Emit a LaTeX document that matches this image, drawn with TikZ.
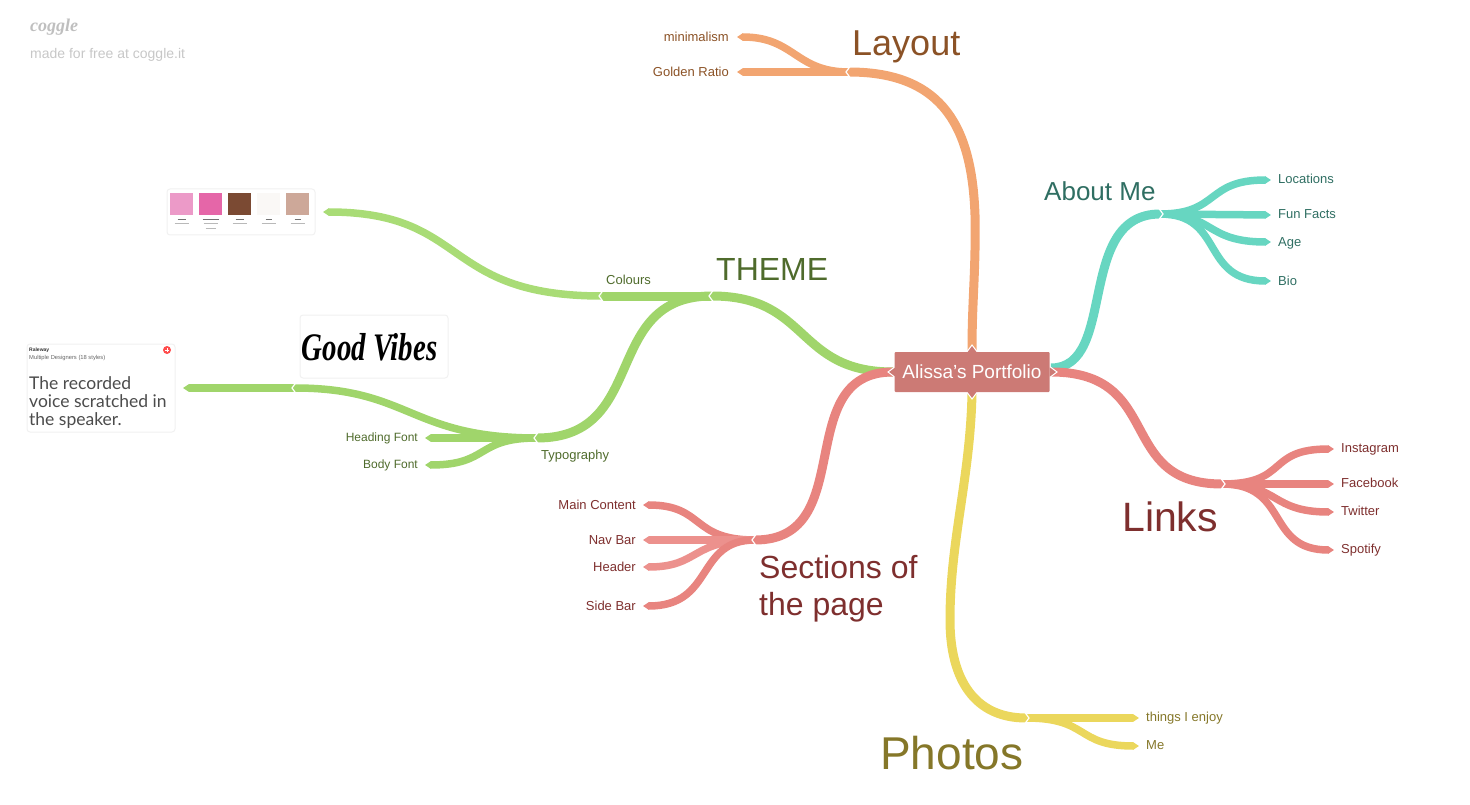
\documentclass[tikz,border=0pt]{standalone}
\usepackage{fontspec}
\setmainfont{Liberation Sans}
\newfontfamily\ravfont{Lato}
\newfontfamily\scriptyfont{Liberation Serif}
\usetikzlibrary{arrows.meta}
\definecolor{orangeB}{HTML}{F2A571}\definecolor{orangeT}{HTML}{8B5226}
\definecolor{tealB}{HTML}{67D6C1}\definecolor{tealT}{HTML}{2F6E62}
\definecolor{greenB}{HTML}{A0D56B}\definecolor{greenL}{HTML}{A9DC76}\definecolor{greenT}{HTML}{4F6B2C}
\definecolor{redB}{HTML}{E8847F}\definecolor{redL}{HTML}{EC918D}\definecolor{redT}{HTML}{7E2F2E}
\definecolor{yellowB}{HTML}{EBD75C}\definecolor{yellowT}{HTML}{857729}
\definecolor{boxC}{HTML}{CC7A75}\definecolor{cardL}{HTML}{F1F1F1}
\definecolor{swA}{HTML}{EC9AC8}\definecolor{swB}{HTML}{E566A8}\definecolor{swC}{HTML}{7B4A33}\definecolor{swD}{HTML}{FAF8F6}\definecolor{swE}{HTML}{CDA899}
\tikzset{
  x=1pt,y=-1pt,
  branch/.style={line width=9pt,line cap=butt},
  leaf/.style={line width=7.5pt,line cap=butt,-{Triangle[length=6pt,width=7.5pt]}},
  bare/.style={line width=7.5pt,line cap=butt},
  sz/.style={font=\fontsize{#1}{#1}\selectfont,inner sep=0pt},
  lab/.style={sz=13,text=#1,anchor=base west},
  labr/.style={sz=13,text=#1,anchor=base east},
  labs/.style={sz=12,text=#1,anchor=base east},
  card/.style={draw=cardL,line width=1pt,fill=white,rounded corners=3pt,inner sep=0pt},
  chevl/.pic={\draw[white,line width=1.2pt] (4,-5.5)--(0,0)--(4,5.5);},
  chevr/.pic={\draw[white,line width=1.2pt] (-4,-5.5)--(0,0)--(-4,5.5);},
  tabm/.style={fill=boxC,draw=white,line width=1pt,line join=miter},
  swatch/.style={inner sep=0pt,minimum width=23.5pt,minimum height=22.5pt},
  tiny/.style={draw=#1,line width=1.1pt,opacity=.55}
}
\begin{document}
\begin{tikzpicture}
\useasboundingbox (0,0) rectangle (1470,805);
% junctions
\coordinate (cT) at (972,350);\coordinate (cB) at (972,394);
\coordinate (cL) at (893,372);\coordinate (cR) at (1051,372);\coordinate (cRa) at (1051,368);
\coordinate (jLay) at (849,72);\coordinate (jAb) at (1160,214);\coordinate (jLin) at (1222,484);
\coordinate (jSec) at (755,540);\coordinate (jThe) at (712,296);\coordinate (jCol) at (602,296);
\coordinate (jTyp) at (537,438);\coordinate (jImg) at (295,388);\coordinate (jPho) at (1026,718);
% free ends
\coordinate (eMin) at (737,37);\coordinate (eGol) at (737,72);
\coordinate (eLoc) at (1271,180);\coordinate (eFun) at (1271,215);\coordinate (eAge) at (1271,242);\coordinate (eBio) at (1271,281);
\coordinate (eIns) at (1334,449);\coordinate (eFac) at (1334,484);\coordinate (eTwi) at (1334,512);\coordinate (eSpo) at (1334,550);
\coordinate (eMai) at (643,505);\coordinate (eNav) at (643,540);\coordinate (eHea) at (643,567);\coordinate (eSid) at (643,606);
\coordinate (ePal) at (323,212);\coordinate (eFnt) at (183,388);\coordinate (eHeF) at (425,438);\coordinate (eBoF) at (425,465);
\coordinate (eThi) at (1139,718);\coordinate (eMe) at (1139,746);
% Layout
\draw[branch,orangeB] (cT) .. controls (972,300) and (976,270) .. (975,215) .. controls (972,130) and (945,72) .. (jLay);
\draw[leaf,orangeB] (jLay) .. controls (795,72) and (795,37) .. (eMin);
\draw[leaf,orangeB] (jLay) -- (eGol);
% About me
\draw[branch,tealB] (cRa) .. controls (1118,368) and (1075,214) .. (jAb);
\draw[leaf,tealB] (jAb) .. controls (1220,214) and (1205,180) .. (eLoc);
\draw[leaf,tealB] (jAb) -- (eFun);
\draw[leaf,tealB] (jAb) .. controls (1215,214) and (1205,242) .. (eAge);
\draw[leaf,tealB] (jAb) .. controls (1225,214) and (1200,281) .. (eBio);
% Links
\draw[branch,redB] (cR) .. controls (1165,372) and (1115,484) .. (jLin);
\draw[leaf,redB] (jLin) .. controls (1290,484) and (1265,449) .. (eIns);
\draw[leaf,redB] (jLin) -- (eFac);
\draw[leaf,redB] (jLin) .. controls (1280,484) and (1270,512) .. (eTwi);
\draw[leaf,redB] (jLin) .. controls (1290,484) and (1265,550) .. (eSpo);
% Theme
\draw[branch,greenB] (cL) .. controls (795,372) and (810,296) .. (jThe);
\draw[branch,greenB] (jThe) -- (jCol);
\draw[leaf,greenL] (jCol) .. controls (440,296) and (470,212) .. (ePal);
\draw[branch,greenB] (jThe) .. controls (600,296) and (650,438) .. (jTyp);
\draw[bare,greenB] (jTyp) .. controls (410,438) and (410,388) .. (jImg);
\draw[leaf,greenB] (jImg) -- (eFnt);
\draw[leaf,greenB] (jTyp) -- (eHeF);
\draw[leaf,greenB] (jTyp) .. controls (475,438) and (490,465) .. (eBoF);
% Sections
\draw[branch,redB] (cL) .. controls (790,372) and (860,540) .. (jSec);
\draw[leaf,redB] (jSec) .. controls (690,540) and (705,505) .. (eMai);
\draw[leaf,redL] (jSec) -- (eNav);
\draw[leaf,redL] (jSec) .. controls (690,540) and (700,567) .. (eHea);
\draw[leaf,redB] (jSec) .. controls (695,540) and (715,606) .. (eSid);
% Photos
\draw[branch,yellowB] (cB) .. controls (970,480) and (950,540) .. (950,620) .. controls (950,680) and (975,718) .. (jPho);
\draw[leaf,yellowB] (jPho) -- (eThi);
\draw[leaf,yellowB] (jPho) .. controls (1090,718) and (1075,746) .. (eMe);
% notches
\foreach \p/\q in {jLay/-3,jThe/-3,jCol/-3,jTyp/-3,jImg/-3,jSec/-3}{\path (\p) ++(\q,0) pic {chevl};}
\foreach \p/\q in {jAb/3,jLin/3,jPho/3}{\path (\p) ++(\q,0) pic {chevr};}
% centre
\draw[tabm] (966,353) -- (972,345) -- (978,353) -- cycle;
\draw[tabm] (966,391) -- (972,399) -- (978,391) -- cycle;
\draw[tabm] (896,366) -- (888,372) -- (896,378) -- cycle;
\draw[tabm] (1049,366) -- (1057,372) -- (1049,378) -- cycle;
\node[sz=19,fill=boxC,text=white,rounded corners=1pt,minimum width=155pt,minimum height=40pt,anchor=center] (centre) at (972,372) {Alissa's Portfolio};
% big labels
\node[sz=36,text=orangeT,anchor=base west] (tLay) at (852,56) {Layout};
\node[sz=26,text=tealT,anchor=base west] (tAb) at (1044,201) {About Me};
\node[sz=32,text=greenT,anchor=base west] (tThe) at (716,280) {THEME};
\node[sz=41,text=redT,anchor=base west] (tLin) at (1122,531) {Links};
\node[sz=46,text=yellowT,anchor=base west] (tPho) at (880,769) {Photos};
\node[sz=32,text=redT,anchor=base west] (tSec) at (759,578) {Sections of};
\node[sz=32,text=redT,anchor=base west] (tSec2) at (759,615) {the page};
% small labels
\node[labr=orangeT] (lMin) at (729,42) {minimalism};
\node[labr=orangeT] (lGol) at (729,77) {Golden Ratio};
\node[lab=tealT] (lLoc) at (1278,184) {Locations};
\node[lab=tealT] (lFun) at (1278,219) {Fun Facts};
\node[lab=tealT] (lAge) at (1278,247) {Age};
\node[lab=tealT] (lBio) at (1278,285) {Bio};
\node[lab=redT] (lIns) at (1341,452) {Instagram};
\node[lab=redT] (lFac) at (1341,487) {Facebook};
\node[lab=redT] (lTwi) at (1341,515) {Twitter};
\node[lab=redT] (lSpo) at (1341,553) {Spotify};
\node[labr=redT] (lMai) at (636,509) {Main Content};
\node[labr=redT] (lNav) at (636,544) {Nav Bar};
\node[labr=redT] (lHea) at (636,571) {Header};
\node[labr=redT] (lSid) at (636,610) {Side Bar};
\node[lab=greenT] (lCol) at (606,284) {Colours};
\node[lab=greenT] (lTyp) at (541,459) {Typography};
\node[labs=greenT] (lHeF) at (418,441) {Heading Font};
\node[labs=greenT] (lBoF) at (418,468) {Body Font};
\node[lab=yellowT] (lThi) at (1146,721) {things I enjoy};
\node[lab=yellowT] (lMe) at (1146,749) {Me};
% logo
\node[inner sep=0pt,text=black!25,anchor=base west,font=\fontsize{18}{18}\scriptyfont\itshape\bfseries\selectfont] (logo) at (30,32) {coggle};
\node[sz=14,text=black!22,anchor=base west] (made) at (30,59) {made for free at coggle.it};
% palette card
\node[card,minimum width=148pt,minimum height=46pt] (pal) at (241,212) {};
\node[swatch,fill=swA] (s1) at (181.5,204) {};
\node[swatch,fill=swB] (s2) at (210.5,204) {};
\node[swatch,fill=swC] (s3) at (239.5,204) {};
\node[swatch,fill=swD] (s4) at (268.5,204) {};
\node[swatch,fill=swE] (s5) at (297.5,204) {};
\foreach \s/\w in {s1/4,s2/8,s3/4,s4/3,s5/3}{
  \draw[tiny=black] ([xshift=-\w pt,yshift=-4pt]\s.south) -- ([xshift=\w pt,yshift=-4pt]\s.south);
  \draw[tiny=gray] ([xshift=-7pt,yshift=-8.5pt]\s.south) -- ([xshift=7pt,yshift=-8.5pt]\s.south);
}
\draw[tiny=gray] ([xshift=-5pt,yshift=-13pt]s2.south) -- ([xshift=5pt,yshift=-13pt]s2.south);
% font card
\node[card,minimum width=148pt,minimum height=88pt] (fnt) at (101,388) {};
\node[inner sep=0pt,font=\fontsize{5}{5}\selectfont\bfseries,anchor=base west,text=black!80] (fn1) at (29,351) {Raleway};
\node[inner sep=0pt,font=\fontsize{5.8}{6}\selectfont,anchor=base west,text=black!60] (fn2) at (29,359) {Multiple Designers (18 styles)};
\node[inner sep=0pt,font=\fontsize{17.5}{18}\ravfont\selectfont,anchor=base west,text=black!70] (fn3) at (29,389) {The recorded};
\node[inner sep=0pt,font=\fontsize{17.5}{18}\ravfont\selectfont,anchor=base west,text=black!70] (fn4) at (29,407) {voice scratched in};
\node[inner sep=0pt,font=\fontsize{17.5}{18}\ravfont\selectfont,anchor=base west,text=black!70] (fn5) at (29,425) {the speaker.};
\fill[red!70!white] (167,350) circle (4);
\draw[white,line width=.8pt] (165,350) -- (169,350) (167,348) -- (167,352);
% good vibes card
\node[card,minimum width=148pt,minimum height=63pt] (gv) at (374,346.5) {};
\node[inner sep=0pt,font=\fontsize{39}{39}\scriptyfont\bfseries\itshape\selectfont,text=black,anchor=center,xscale=.74] (gvt) at (369.5,347) {Good Vibes};
\end{tikzpicture}
\end{document}
